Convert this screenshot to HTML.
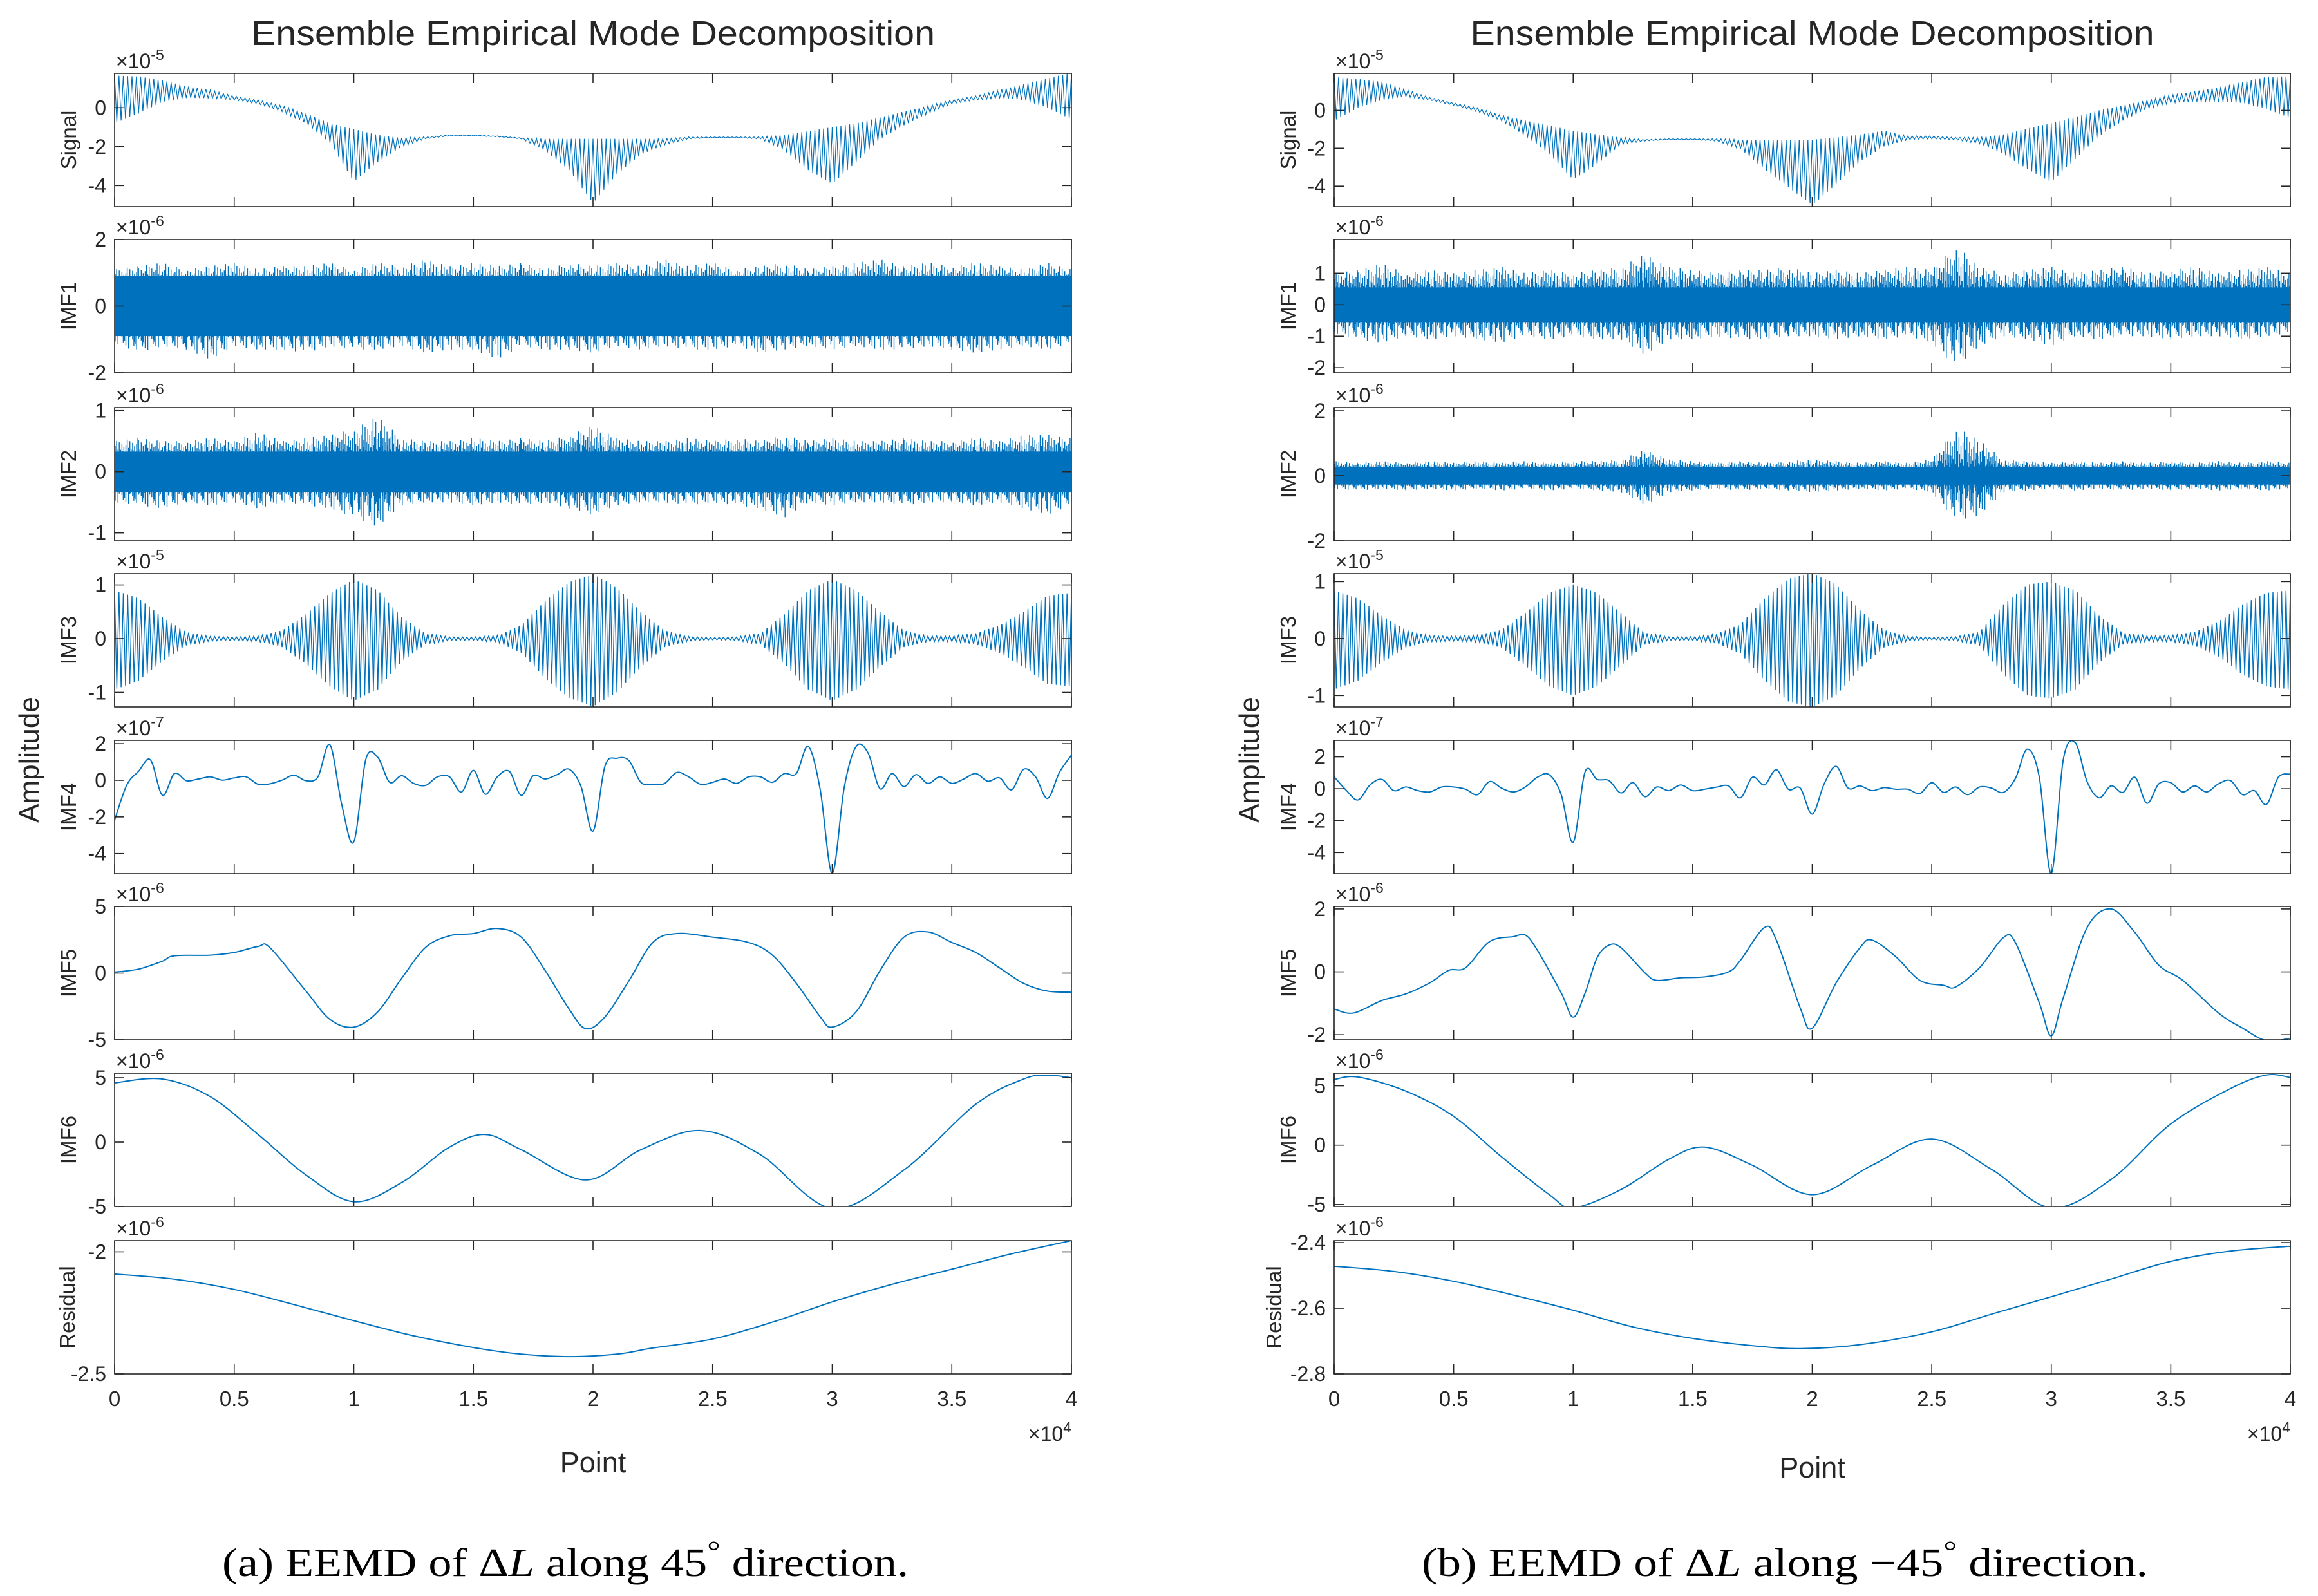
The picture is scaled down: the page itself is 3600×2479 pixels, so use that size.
<!DOCTYPE html>
<html><head><meta charset="utf-8"><style>
html,body{margin:0;padding:0;background:#fff;}
svg{display:block;}
text{font-family:"Liberation Sans",Arial,sans-serif;fill:#262626;}
</style></head><body>
<svg id="fig" xmlns="http://www.w3.org/2000/svg" width="3600" height="2479" viewBox="0 0 3600 2479"></svg>
<script>
// ===== common x data =====
const envX = [0,1,2,3,4,5,6,7,8,9,10,11,12,13,14,15,16,17,18,19,20,21,22,23,24,25,26,27,28,29,30,31,32,33,34,35,36,37,38,39,40]; // ×1000 points
const xTicks = [0,0.5,1,1.5,2,2.5,3,3.5,4];
const xTickLabels = ["0","0.5","1","1.5","2","2.5","3","3.5","4"];

// ===== LEFT (45°) =====
const sigUpperL = [1.65,1.6,1.4,1.1,0.9,0.6,0.4,0.1,-0.3,-0.8,-1.1,-1.4,-1.55,-1.5,-1.4,-1.4,-1.45,-1.55,-1.6,-1.6,-1.6,-1.6,-1.6,-1.6,-1.5,-1.5,-1.5,-1.5,-1.4,-1.2,-1.0,-0.8,-0.5,-0.2,0.1,0.4,0.6,0.9,1.2,1.5,1.8];
const sigLowerL = [-0.8,-0.3,0.3,0.5,0.5,0.4,0.2,-0.2,-0.8,-1.8,-3.8,-2.8,-2.0,-1.6,-1.45,-1.45,-1.5,-1.6,-2.2,-3.2,-4.9,-3.4,-2.4,-1.9,-1.6,-1.55,-1.55,-1.6,-2.2,-3.2,-3.9,-2.8,-1.6,-0.9,-0.3,0.2,0.4,0.5,0.4,0.0,-0.6];
const imf1CoreL = 0.9;
const imf1UpperL = [1.1,1.2,1.3,1.1,1.2,1.3,1.1,1.2,1.2,1.3,1.1,1.3,1.2,1.4,1.2,1.3,1.2,1.3,1.1,1.3,1.2,1.3,1.2,1.4,1.2,1.3,1.1,1.2,1.3,1.1,1.2,1.3,1.4,1.2,1.3,1.2,1.3,1.2,1.1,1.3,1.1];
const imf1LowerL = [-1.1,-1.4,-1.2,-1.3,-1.6,-1.2,-1.3,-1.3,-1.4,-1.2,-1.3,-1.3,-1.2,-1.4,-1.3,-1.3,-1.6,-1.2,-1.3,-1.3,-1.4,-1.2,-1.3,-1.2,-1.3,-1.3,-1.2,-1.4,-1.3,-1.2,-1.3,-1.2,-1.3,-1.3,-1.2,-1.3,-1.4,-1.3,-1.2,-1.3,-1.1];
const imf2CoreL = 0.33;
const imf2UpperL = [0.5,0.55,0.5,0.5,0.55,0.5,0.65,0.5,0.55,0.6,0.7,0.9,0.55,0.5,0.5,0.55,0.5,0.55,0.5,0.6,0.75,0.55,0.5,0.5,0.55,0.5,0.55,0.5,0.6,0.5,0.55,0.5,0.5,0.55,0.5,0.5,0.55,0.5,0.6,0.6,0.55];
const imf2LowerL = [-0.5,-0.55,-0.6,-0.5,-0.55,-0.5,-0.6,-0.5,-0.55,-0.6,-0.75,-0.9,-0.55,-0.5,-0.5,-0.55,-0.5,-0.55,-0.5,-0.6,-0.7,-0.55,-0.5,-0.5,-0.55,-0.5,-0.55,-0.6,-0.75,-0.5,-0.55,-0.5,-0.5,-0.55,-0.5,-0.5,-0.55,-0.5,-0.6,-0.7,-0.55];
const imf3AmpL = [0.9,0.75,0.4,0.12,0.04,0.03,0.05,0.15,0.45,0.85,1.1,0.9,0.4,0.1,0.03,0.03,0.06,0.25,0.7,1.05,1.2,0.95,0.5,0.15,0.04,0.02,0.03,0.1,0.45,0.9,1.1,0.9,0.5,0.15,0.05,0.05,0.1,0.25,0.5,0.8,0.85];
const imf4XL = [0,0.5,1,1.5,2,2.5,3,3.5,4,4.5,5,5.5,6,6.5,7,7.5,8,8.5,9,9.5,10,10.5,11,11.5,12,12.5,13,13.5,14,14.5,15,15.5,16,16.5,17,17.5,18,18.5,19,19.5,20,20.5,21,21.5,22,22.5,23,23.5,24,24.5,25,25.5,26,26.5,27,27.5,28,28.5,29,29.5,30,30.5,31,31.5,32,32.5,33,33.5,34,34.5,35,35.5,36,36.5,37,37.5,38,38.5,39,39.5,40];
const imf4L = [-2.18,-0.28,0.49,1.11,-0.82,0.37,-0.02,0.07,0.19,0.01,0.13,0.19,-0.22,-0.19,0.01,0.28,-0.02,0.19,1.94,-1.35,-3.36,1.14,1.25,-0.11,0.25,-0.17,-0.28,0.19,0.19,-0.64,0.54,-0.76,0.19,0.49,-0.82,0.25,0.07,0.31,0.6,-0.34,-2.77,0.78,1.2,1.08,-0.11,-0.22,-0.17,0.43,0.19,-0.22,-0.11,0.07,-0.17,0.19,0.19,-0.11,0.37,0.37,1.85,-0.52,-5.08,-0.4,1.85,1.49,-0.46,0.37,-0.34,0.31,-0.17,0.19,-0.17,0.07,0.37,-0.05,0.13,-0.52,0.6,0.19,-0.99,0.43,1.37];
const imf5XL = [0,1,2,2.5,4,5,6,6.5,8,9,10,11,12,13,14,15,16,17,18,19,19.7,20.5,21.5,22.5,23.5,25,26.5,27.5,28.5,29.5,30,31,32,33,34,35,36,37,38,39,40];
const imf5L = [0.08,0.3,0.9,1.3,1.35,1.55,2.0,1.9,-1.35,-3.47,-4.05,-2.9,-0.39,1.93,2.8,2.97,3.35,2.7,0.19,-2.7,-4.17,-3.28,-0.58,2.3,2.97,2.7,2.3,1.35,-0.77,-3.28,-4.05,-2.9,0.19,2.7,3.09,2.3,1.55,0.39,-0.77,-1.35,-1.43];
const imf6XL = [0,2,4,6,8,10,12,14,15.5,17,19.7,22,24.5,27,30,33,36,38,39,40];
const imf6L = [4.6,4.9,3.53,0.59,-2.55,-4.63,-3.14,-0.39,0.59,-0.59,-2.94,-0.59,0.9,-0.98,-5.14,-2.16,2.94,4.9,5.2,5.0];
const resXL = [0,2.5,5,7.5,10,12.5,15,17,19,21,22.5,25,27.5,30,32.5,35,37.5,40];
const resL = [-2.091,-2.112,-2.154,-2.216,-2.282,-2.344,-2.392,-2.419,-2.429,-2.419,-2.394,-2.357,-2.288,-2.205,-2.133,-2.071,-2.008,-1.954];

// ===== RIGHT (-45°) =====
const sigUpperR = [1.76,1.65,1.5,1.1,0.68,0.4,0.14,-0.27,-0.54,-0.8,-1.08,-1.27,-1.43,-1.54,-1.5,-1.5,-1.5,-1.55,-1.55,-1.55,-1.55,-1.43,-1.27,-1.08,-1.35,-1.35,-1.43,-1.43,-1.27,-0.95,-0.68,-0.35,0.0,0.27,0.54,0.8,1.0,1.22,1.5,1.76,1.8];
const sigLowerR = [-0.54,0.14,0.54,0.73,0.54,0.27,-0.08,-0.54,-1.35,-2.3,-3.65,-2.84,-1.8,-1.62,-1.55,-1.55,-1.62,-2.03,-3.1,-4.05,-5.0,-3.9,-2.7,-1.9,-1.55,-1.5,-1.55,-1.76,-2.3,-3.1,-3.78,-2.57,-1.35,-0.54,0.08,0.4,0.46,0.46,0.4,0.08,-0.4];
const imf1CoreR = 0.55;
const imf1UpperR = [1.0,1.1,1.3,1.0,1.1,1.0,1.1,1.2,1.0,1.1,1.0,1.1,1.2,1.6,1.2,1.1,1.0,1.1,1.1,1.2,1.0,1.1,1.0,1.1,1.2,1.1,1.9,1.2,1.0,1.1,1.2,1.0,1.1,1.2,1.0,1.1,1.2,1.0,1.1,1.2,1.0];
const imf1LowerR = [-0.9,-1.1,-1.2,-1.0,-1.1,-1.0,-1.1,-1.2,-1.0,-1.1,-1.0,-1.1,-1.1,-1.6,-1.1,-1.1,-1.0,-1.1,-1.1,-1.0,-1.0,-1.1,-1.0,-1.1,-1.0,-1.2,-2.0,-1.3,-1.0,-1.1,-1.3,-1.0,-1.1,-1.0,-1.0,-1.1,-1.0,-1.0,-1.1,-1.0,-0.9];
const imf2CoreR = 0.27;
const imf2UpperR = [0.45,0.4,0.45,0.4,0.45,0.4,0.45,0.4,0.45,0.4,0.45,0.45,0.5,0.8,0.5,0.45,0.4,0.45,0.4,0.45,0.5,0.45,0.4,0.45,0.4,0.5,1.5,1.1,0.5,0.45,0.4,0.45,0.4,0.45,0.4,0.45,0.4,0.45,0.4,0.45,0.4];
const imf2LowerR = [-0.4,-0.45,-0.4,-0.45,-0.4,-0.45,-0.4,-0.45,-0.4,-0.45,-0.4,-0.45,-0.5,-0.9,-0.5,-0.45,-0.4,-0.45,-0.4,-0.45,-0.5,-0.45,-0.4,-0.45,-0.4,-0.5,-1.4,-1.2,-0.5,-0.45,-0.4,-0.45,-0.4,-0.45,-0.4,-0.45,-0.4,-0.45,-0.4,-0.45,-0.4];
const imf3AmpR = [0.85,0.7,0.4,0.15,0.05,0.04,0.06,0.15,0.45,0.8,0.95,0.8,0.45,0.1,0.03,0.03,0.08,0.25,0.7,1.05,1.15,0.95,0.5,0.15,0.04,0.02,0.03,0.12,0.6,0.95,1.0,0.85,0.4,0.1,0.05,0.05,0.12,0.3,0.6,0.8,0.85];
const imf4XR = imf4XL;
const imf4R = [0.75,-0.09,-0.7,0.24,0.58,-0.12,0.11,-0.12,-0.2,0.11,0.11,-0.03,-0.37,0.45,0.04,-0.2,0.11,0.72,0.88,-0.37,-3.35,1.06,0.58,0.51,-0.26,0.38,-0.5,0.11,-0.12,0.24,-0.12,-0.03,0.1,0.18,-0.57,0.72,0.24,1.19,-0.03,0.04,-1.59,0.31,1.4,0.04,0.18,-0.12,0.07,-0.03,-0.03,-0.3,0.38,-0.23,0.11,-0.37,0.11,0.04,-0.23,0.65,2.48,0.72,-5.31,1.8,2.89,0.45,-0.57,0.18,-0.23,0.72,-0.91,0.31,0.38,-0.2,0.18,-0.2,0.31,0.51,-0.37,-0.12,-0.98,0.72,0.92];
const imf5XR = [0,0.8,2,3,4,4.8,5.5,6.5,7.5,8,8.5,9.5,10,10.5,11,11.5,12,13,13.5,14.5,15.5,16.5,17,18,18.5,19.5,20,21,22,22.5,23.5,24.5,25.5,26,27,28,28.5,29.5,30,30.5,31.5,32.5,33.5,34.5,35.5,37,38,39,40];
const imf5R = [-1.18,-1.31,-0.91,-0.7,-0.35,0.05,0.13,0.96,1.12,1.17,0.69,-0.67,-1.44,-0.67,0.45,0.85,0.77,-0.03,-0.27,-0.19,-0.16,0.0,0.37,1.41,1.01,-1.15,-1.79,-0.35,0.77,1.01,0.48,-0.27,-0.43,-0.48,0.13,1.09,0.93,-0.99,-2.03,-0.83,1.41,2.0,1.25,0.21,-0.27,-1.31,-1.79,-2.19,-2.11];
const imf6XR = [0,1,3,5,7,9,10,12,14,15.5,17.5,20,22.5,25,27.5,30,32.5,35,37.5,39,40];
const imf6R = [5.53,5.74,4.55,2.43,-0.98,-4.17,-5.28,-3.74,-1.19,-0.17,-1.7,-4.17,-1.7,0.51,-2.04,-5.28,-2.89,1.79,4.77,5.91,5.7];
const resXR = [0,2.5,5,7.5,10,12.5,15,17.5,19.5,22,25,27.5,30,32.5,35,37.5,40];
const resR = [-2.472,-2.488,-2.518,-2.56,-2.606,-2.657,-2.692,-2.714,-2.723,-2.711,-2.672,-2.618,-2.565,-2.511,-2.457,-2.426,-2.411];

// ===== rendering =====
const NS = "http://www.w3.org/2000/svg";
const svg = document.getElementById("fig");
const BLUE = "#0072BD", AX = "#262626";
const panelTops = [114,372,633,891,1150,1408,1667,1927];
const PH = 207;
function mk(tag, attrs, parent){ const e=document.createElementNS(NS,tag); for(const k in attrs) e.setAttribute(k,attrs[k]); (parent||svg).appendChild(e); return e; }
function interp(arr, t){
  const i=Math.min(Math.floor(t),arr.length-2); const f=t-i; return arr[i]*(1-f)+arr[i+1]*f; }
function smoothPath(pts){
  let d="M"+pts[0][0].toFixed(1)+","+pts[0][1].toFixed(1);
  for(let i=0;i<pts.length-1;i++){
    const p0=pts[Math.max(i-1,0)],p1=pts[i],p2=pts[i+1],p3=pts[Math.min(i+2,pts.length-1)];
    const c1=[p1[0]+(p2[0]-p0[0])/6,p1[1]+(p2[1]-p0[1])/6];
    const c2=[p2[0]-(p3[0]-p1[0])/6,p2[1]-(p3[1]-p1[1])/6];
    d+="C"+c1[0].toFixed(1)+","+c1[1].toFixed(1)+" "+c2[0].toFixed(1)+","+c2[1].toFixed(1)+" "+p2[0].toFixed(1)+","+p2[1].toFixed(1);
  }
  return d;
}
const spikePat = [0.55,0.85,0.35,1.0,0.6,0.75,0.4,0.95,0.5,0.7,0.3,0.9,0.65,0.45,0.8,0.55];

function drawSide(side){
  const g = mk("g",{});  
  const x0=side.x0, x1=side.x1;
  const xs = v => x0 + (v/40)*(x1-x0);
  side.panels.forEach((p,pi)=>{
    const top=panelTops[pi], bot=top+PH;
    const ys = v => bot - (v-p.ylim[0])/(p.ylim[1]-p.ylim[0])*PH;
    const pg = mk("g",{},g);
    
    
    const cp = mk("clipPath",{id:"c"+side.name+pi},pg);
    mk("rect",{x:x0,y:top,width:x1-x0,height:PH},cp);
    const dg = mk("g",{"clip-path":"url(#c"+side.name+pi+")"},pg);
    if(p.type==="env"){
      const N=p.n; let d="";
      for(let j=0;j<=N;j++){ const t=j/N*40; const v=(j%2===0)?interp(p.up,t):interp(p.lo,t);
        d+=(j?"L":"M")+xs(t).toFixed(1)+","+ys(v).toFixed(1); }
      const pa=mk("path",{d:d,fill:"none",stroke:BLUE,"stroke-width":1.2},dg);
      
      
    } else if(p.type==="amp"){
      const N=p.n; let d="";
      for(let j=0;j<=N;j++){ const t=j/N*40; const a=interp(p.amp,t); const v=(j%2===0)?a:-a*1.05;
        d+=(j?"L":"M")+xs(t).toFixed(1)+","+ys(v).toFixed(1); }
      const pa=mk("path",{d:d,fill:"none",stroke:BLUE,"stroke-width":1.4},dg);
      
      
    } else if(p.type==="noise"){
      const band=mk("rect",{x:x0,y:ys(p.core),width:x1-x0,height:ys(-p.core)-ys(p.core),fill:BLUE},dg);
      
      
      let d="";
      const per=36;
      for(let i=0;i<40;i++){
        for(let k=0;k<per;k++){
          const t=i+k/per; const sp=spikePat[(i*7+k)%spikePat.length]; const sp2=spikePat[(i*5+k*3+4)%spikePat.length];
          const u=interp(p.up,t), l=interp(p.lo,t);
          const hu=p.core*0.7+(u-p.core*0.7)*Math.pow(sp,2.2);
          const hl=-p.core*0.7+(l+p.core*0.7)*Math.pow(sp2,2.2);
          const X=xs(t).toFixed(1);
          d+="M"+X+","+ys(hu).toFixed(1)+"L"+X+","+ys(hl).toFixed(1);
        }
      }
      const pa=mk("path",{d:d,fill:"none",stroke:BLUE,"stroke-width":1.4},dg);
      
      
    } else {
      const pts=p.xv.map((xv,i)=>[xs(xv),ys(p.yv[i])]);
      const pa=mk("path",{d:smoothPath(pts),fill:"none",stroke:BLUE,"stroke-width":2},dg);
      
      
    }
    const box=mk("rect",{x:x0,y:top,width:x1-x0,height:PH,fill:"none",stroke:AX,"stroke-width":1.6},pg);
    
    
    xTicks.forEach(tv=>{
      const X=xs(tv*10);
      mk("line",{x1:X,y1:top,x2:X,y2:top+15,stroke:AX,"stroke-width":1.6},pg);
      mk("line",{x1:X,y1:bot,x2:X,y2:bot-15,stroke:AX,"stroke-width":1.6},pg);
    });
    p.yticks.forEach((tv,ti)=>{
      const Y=ys(tv);
      mk("line",{x1:x0,y1:Y,x2:x0+15,y2:Y,stroke:AX,"stroke-width":1.6},pg);
      mk("line",{x1:x1,y1:Y,x2:x1-15,y2:Y,stroke:AX,"stroke-width":1.6},pg);
      const t=mk("text",{x:x0-13,y:Y+11,"font-size":32,"text-anchor":"end"},pg);
      t.textContent=String(p.ytl[ti]);
      
      
    });
    const ex=mk("text",{x:x0+2,y:top-8,"font-size":32},pg);
    
    
    ex.innerHTML='×10<tspan dy="-13" font-size="23">'+p.exp+'</tspan>';
    const lx = x0 - (p.labelOff||60);
    const yl=mk("text",{x:lx,y:top+PH/2,"font-size":33,"text-anchor":"middle",transform:"rotate(-90 "+lx+" "+(top+PH/2)+")"},pg);
    yl.textContent=p.label;
    
    
  });
  xTicks.forEach((tv,i)=>{
    const t=mk("text",{x:xs(tv*10),y:2184,"font-size":33,"text-anchor":"middle"},g);
    t.textContent=xTickLabels[i];
    
    
  });
  const e4=mk("text",{x:x1,y:2238,"font-size":32,"text-anchor":"end"},g);
  e4.innerHTML='×10<tspan dy="-13" font-size="23">4</tspan>';
  
  
  const xt=mk("text",{x:(x0+x1)/2,y:side.pointY,"font-size":45,"text-anchor":"middle"},g);
  xt.textContent="Point";
  
  
  const am=mk("text",{x:side.ampX,y:1180,"font-size":44,"text-anchor":"middle",transform:"rotate(-90 "+side.ampX+" 1180)"},g);
  am.textContent="Amplitude";
  
  
  const ti=mk("text",{x:(x0+x1)/2,y:70,"font-size":54,"text-anchor":"middle",textLength:1062,lengthAdjust:"spacingAndGlyphs",fill:"#1a1a1a"},g);
  ti.textContent="Ensemble Empirical Mode Decomposition";
  
  
}

drawSide({name:"left",x0:178,x1:1664,ampX:60,pointY:2287,panels:[
  {label:"Signal",type:"env",n:440,up:sigUpperL,lo:sigLowerL,ylim:[-5.08,1.76],yticks:[-4,-2,0],ytl:["-4","-2","0"],exp:"-5"},
  {label:"IMF1",type:"noise",core:imf1CoreL,up:imf1UpperL,lo:imf1LowerL,ylim:[-2,2],yticks:[-2,0,2],ytl:["-2","0","2"],exp:"-6"},
  {label:"IMF2",type:"noise",core:imf2CoreL,up:imf2UpperL,lo:imf2LowerL,ylim:[-1.13,1.05],yticks:[-1,0,1],ytl:["-1","0","1"],exp:"-6"},
  {label:"IMF3",type:"amp",n:440,amp:imf3AmpL,ylim:[-1.27,1.21],yticks:[-1,0,1],ytl:["-1","0","1"],exp:"-5"},
  {label:"IMF4",type:"curve",xv:imf4XL,yv:imf4L,ylim:[-5.1,2.18],yticks:[-4,-2,0,2],ytl:["-4","-2","0","2"],exp:"-7"},
  {label:"IMF5",type:"curve",xv:imf5XL,yv:imf5L,ylim:[-5,5],yticks:[-5,0,5],ytl:["-5","0","5"],exp:"-6"},
  {label:"IMF6",type:"curve",xv:imf6XL,yv:imf6L,ylim:[-5,5.35],yticks:[-5,0,5],ytl:["-5","0","5"],exp:"-6"},
  {label:"Residual",type:"curve",xv:resXL,yv:resL,ylim:[-2.5,-1.954],yticks:[-2.5,-2],ytl:["-2.5","-2"],exp:"-6",labelOff:62}
]});
drawSide({name:"right",x0:2072,x1:3557,ampX:1955,pointY:2295,panels:[
  {label:"Signal",type:"env",n:440,up:sigUpperR,lo:sigLowerR,ylim:[-5.08,1.95],yticks:[-4,-2,0],ytl:["-4","-2","0"],exp:"-5"},
  {label:"IMF1",type:"noise",core:imf1CoreR,up:imf1UpperR,lo:imf1LowerR,ylim:[-2.16,2.07],yticks:[-2,-1,0,1],ytl:["-2","-1","0","1"],exp:"-6"},
  {label:"IMF2",type:"noise",core:imf2CoreR,up:imf2UpperR,lo:imf2LowerR,ylim:[-2,2.1],yticks:[-2,0,2],ytl:["-2","0","2"],exp:"-6"},
  {label:"IMF3",type:"amp",n:440,amp:imf3AmpR,ylim:[-1.2,1.14],yticks:[-1,0,1],ytl:["-1","0","1"],exp:"-5"},
  {label:"IMF4",type:"curve",xv:imf4XR,yv:imf4R,ylim:[-5.32,3.03],yticks:[-4,-2,0,2],ytl:["-4","-2","0","2"],exp:"-7"},
  {label:"IMF5",type:"curve",xv:imf5XR,yv:imf5R,ylim:[-2.16,2.08],yticks:[-2,0,2],ytl:["-2","0","2"],exp:"-6"},
  {label:"IMF6",type:"curve",xv:imf6XR,yv:imf6R,ylim:[-5.17,6.06],yticks:[-5,0,5],ytl:["-5","0","5"],exp:"-6"},
  {label:"Residual",type:"curve",xv:resXR,yv:resR,ylim:[-2.8,-2.394],yticks:[-2.8,-2.6,-2.4],ytl:["-2.8","-2.6","-2.4"],exp:"-6",labelOff:82}
]});

function caption(cx, html, len, name){
  const t=mk("text",{x:cx,y:2448,"font-size":62,"text-anchor":"middle",textLength:len,lengthAdjust:"spacingAndGlyphs",fill:"#000"});
  t.setAttribute("style",'font-family:"Liberation Serif",serif;fill:#000');
  t.innerHTML=html;
  
  
}
caption(878,'(a)  EEMD of Δ<tspan font-style="italic">L</tspan> along 45<tspan dy="-24" font-size="44">°</tspan><tspan dy="24"> direction.</tspan>',1066,'caption-a');
caption(2772,'(b)  EEMD of Δ<tspan font-style="italic">L</tspan> along −45<tspan dy="-24" font-size="44">°</tspan><tspan dy="24"> direction.</tspan>',1128,'caption-b');
</script>
</body></html>
